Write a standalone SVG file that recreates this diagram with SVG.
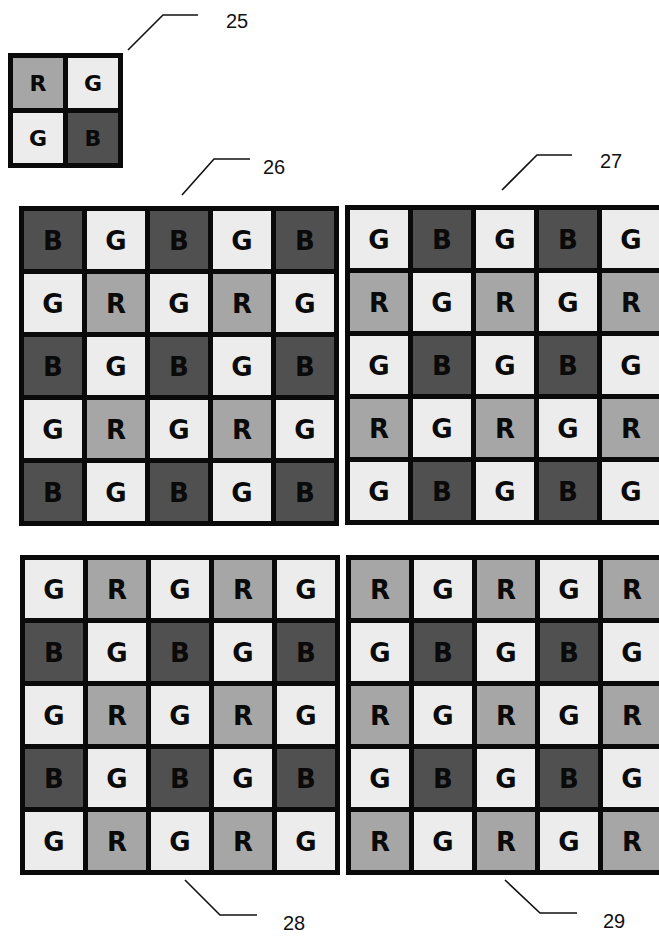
<svg xmlns="http://www.w3.org/2000/svg" xmlns:xlink="http://www.w3.org/1999/xlink" width="659" height="936" viewBox="0 0 659 936">
<style>
.frame{fill:#0a0a0a}
.g{fill:#ececec}
.r{fill:#a6a6a6}
.b{fill:#505050}
.lt{font-family:"DejaVu Sans",Verdana,sans-serif;font-weight:bold;font-size:26px;fill:#0a0a0a;text-anchor:middle}
.ls{font-family:"DejaVu Sans",Verdana,sans-serif;font-weight:bold;font-size:22px;fill:#0a0a0a;text-anchor:middle}
.lead{fill:none;stroke:#111;stroke-width:1.6}
.num{font-family:"Liberation Sans",Arial,sans-serif;font-size:20px;fill:#111}
</style>
<defs>
<g id="cG"><rect class="g" width="58" height="58"/><text class="lt" x="29" y="38.5">G</text></g>
<g id="cR"><rect class="r" width="58" height="58"/><text class="lt" x="29" y="38.5">R</text></g>
<g id="cB"><rect class="b" width="58" height="58"/><text class="lt" x="29" y="38.5">B</text></g>
<g id="sG"><rect class="g" width="50" height="50"/><text class="ls" x="25" y="33">G</text></g>
<g id="sR"><rect class="r" width="50" height="50"/><text class="ls" x="25" y="33">R</text></g>
<g id="sB"><rect class="b" width="50" height="50"/><text class="ls" x="25" y="33">B</text></g>
</defs>
<rect width="659" height="936" fill="#fff"/>

<g id="grid25">
<rect class="frame" x="8" y="53" width="115" height="115"/>
<use href="#sR" x="13" y="58"/><use href="#sG" x="68" y="58"/>
<use href="#sG" x="13" y="113"/><use href="#sB" x="68" y="113"/>
</g>

<g id="grid26">
<rect class="frame" x="19" y="206" width="320" height="320"/>
<use href="#cB" x="24" y="211"/><use href="#cG" x="87" y="211"/><use href="#cB" x="150" y="211"/><use href="#cG" x="213" y="211"/><use href="#cB" x="276" y="211"/>
<use href="#cG" x="24" y="274"/><use href="#cR" x="87" y="274"/><use href="#cG" x="150" y="274"/><use href="#cR" x="213" y="274"/><use href="#cG" x="276" y="274"/>
<use href="#cB" x="24" y="337"/><use href="#cG" x="87" y="337"/><use href="#cB" x="150" y="337"/><use href="#cG" x="213" y="337"/><use href="#cB" x="276" y="337"/>
<use href="#cG" x="24" y="400"/><use href="#cR" x="87" y="400"/><use href="#cG" x="150" y="400"/><use href="#cR" x="213" y="400"/><use href="#cG" x="276" y="400"/>
<use href="#cB" x="24" y="463"/><use href="#cG" x="87" y="463"/><use href="#cB" x="150" y="463"/><use href="#cG" x="213" y="463"/><use href="#cB" x="276" y="463"/>
</g>

<g id="grid27">
<rect class="frame" x="345" y="205" width="320" height="320"/>
<use href="#cG" x="350" y="210"/><use href="#cB" x="413" y="210"/><use href="#cG" x="476" y="210"/><use href="#cB" x="539" y="210"/><use href="#cG" x="602" y="210"/>
<use href="#cR" x="350" y="273"/><use href="#cG" x="413" y="273"/><use href="#cR" x="476" y="273"/><use href="#cG" x="539" y="273"/><use href="#cR" x="602" y="273"/>
<use href="#cG" x="350" y="336"/><use href="#cB" x="413" y="336"/><use href="#cG" x="476" y="336"/><use href="#cB" x="539" y="336"/><use href="#cG" x="602" y="336"/>
<use href="#cR" x="350" y="399"/><use href="#cG" x="413" y="399"/><use href="#cR" x="476" y="399"/><use href="#cG" x="539" y="399"/><use href="#cR" x="602" y="399"/>
<use href="#cG" x="350" y="462"/><use href="#cB" x="413" y="462"/><use href="#cG" x="476" y="462"/><use href="#cB" x="539" y="462"/><use href="#cG" x="602" y="462"/>
</g>

<g id="grid28">
<rect class="frame" x="20" y="555" width="320" height="320"/>
<use href="#cG" x="25" y="560"/><use href="#cR" x="88" y="560"/><use href="#cG" x="151" y="560"/><use href="#cR" x="214" y="560"/><use href="#cG" x="277" y="560"/>
<use href="#cB" x="25" y="623"/><use href="#cG" x="88" y="623"/><use href="#cB" x="151" y="623"/><use href="#cG" x="214" y="623"/><use href="#cB" x="277" y="623"/>
<use href="#cG" x="25" y="686"/><use href="#cR" x="88" y="686"/><use href="#cG" x="151" y="686"/><use href="#cR" x="214" y="686"/><use href="#cG" x="277" y="686"/>
<use href="#cB" x="25" y="749"/><use href="#cG" x="88" y="749"/><use href="#cB" x="151" y="749"/><use href="#cG" x="214" y="749"/><use href="#cB" x="277" y="749"/>
<use href="#cG" x="25" y="812"/><use href="#cR" x="88" y="812"/><use href="#cG" x="151" y="812"/><use href="#cR" x="214" y="812"/><use href="#cG" x="277" y="812"/>
</g>

<g id="grid29">
<rect class="frame" x="346" y="555" width="320" height="320"/>
<use href="#cR" x="351" y="560"/><use href="#cG" x="414" y="560"/><use href="#cR" x="477" y="560"/><use href="#cG" x="540" y="560"/><use href="#cR" x="603" y="560"/>
<use href="#cG" x="351" y="623"/><use href="#cB" x="414" y="623"/><use href="#cG" x="477" y="623"/><use href="#cB" x="540" y="623"/><use href="#cG" x="603" y="623"/>
<use href="#cR" x="351" y="686"/><use href="#cG" x="414" y="686"/><use href="#cR" x="477" y="686"/><use href="#cG" x="540" y="686"/><use href="#cR" x="603" y="686"/>
<use href="#cG" x="351" y="749"/><use href="#cB" x="414" y="749"/><use href="#cG" x="477" y="749"/><use href="#cB" x="540" y="749"/><use href="#cG" x="603" y="749"/>
<use href="#cR" x="351" y="812"/><use href="#cG" x="414" y="812"/><use href="#cR" x="477" y="812"/><use href="#cG" x="540" y="812"/><use href="#cR" x="603" y="812"/>
</g>

<g id="connectors">
<polyline class="lead" points="128,50 163,15 198,15"/>
<polyline class="lead" points="182,195 214,159 250,159"/>
<polyline class="lead" points="502,190 537,155 572,155"/>
<polyline class="lead" points="185,880 220,915 257,915"/>
<polyline class="lead" points="505,880 540,913 577,913"/>
</g>
<g id="labels">
<text class="num" x="226" y="28">25</text>
<text class="num" x="263" y="174">26</text>
<text class="num" x="600" y="168">27</text>
<text class="num" x="283" y="930">28</text>
<text class="num" x="603" y="928">29</text>
</g>
</svg>
